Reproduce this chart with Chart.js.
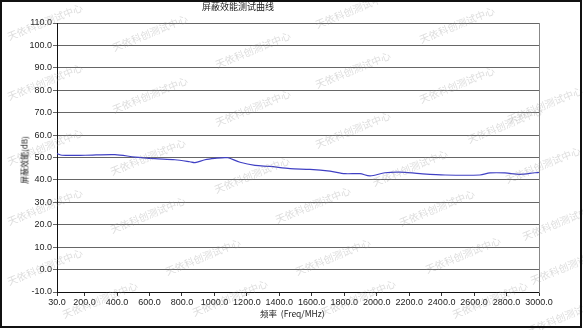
<!DOCTYPE html>
<html>
<head>
<meta charset="utf-8">
<script src="https://cdn.jsdelivr.net/npm/chart.js@4"></script>
<style>
  body { margin: 0; background: #fff; }
  #wrap { position: relative; width: 583px; height: 330px; font-family: "Noto Sans CJK SC", sans-serif; color: #222; }
  #frame { position: absolute; left: 0; top: 0; width: 582px; height: 328px; box-sizing: border-box; border: 2px solid #111; pointer-events: none; }
  .lbl { position: absolute; white-space: nowrap; }
  #title { left: 202px; top: 0px; font-size: 9px; }
  #ytitle { left: 24px; top: 160px; font-size: 8px; transform: translate(-50%, -50%) rotate(-90deg); }
  #xtitle { left: 260px; top: 307px; font-size: 8.5px; }
</style>
</head>
<body>
<div id="wrap">
  <canvas id="chart" width="583" height="330"></canvas>
  <div class="lbl" id="title">屏蔽效能测试曲线</div>
  <div class="lbl" id="ytitle">屏蔽效能(dB)</div>
  <div class="lbl" id="xtitle">频率&nbsp;&nbsp;(Freq/MHz)</div>
  <div id="frame"></div>
</div>
<script>
const freqs = [30, 61, 203, 387, 511, 634, 757, 849, 880, 942, 1003, 1065, 1084, 1158, 1250, 1342, 1466, 1589, 1712, 1805, 1897, 1959, 2051, 2143, 2267, 2421, 2636, 2698, 2790, 2882, 2975, 3000]
const shielding = [51.7, 51.0, 51.0, 51.3, 50.2, 49.5, 49.0, 48.1, 47.7, 49.0, 49.6, 49.9, 49.9, 47.9, 46.5, 46.0, 45.0, 44.7, 43.9, 42.8, 42.8, 41.8, 43.2, 43.5, 42.8, 42.2, 42.2, 43.1, 43.1, 42.5, 43.2, 43.3]
const xTicks = [30, 200, 400, 600, 800, 1000, 1200, 1400, 1600, 1800, 2000, 2200, 2400, 2600, 2800, 3000]

const watermark = '天依科创测试中心'
const marks = [
  [45, 22], [150, 33], [253, 50], [353, 10], [457, 25],
  [45, 82], [150, 95], [253, 108], [353, 70], [457, 85], [545, 105],
  [45, 147], [148, 157], [252, 175], [353, 130], [505, 125], [410, 168], [543, 165],
  [45, 207], [148, 215], [313, 205], [437, 208], [560, 222],
  [45, 267], [100, 300], [203, 257], [230, 298], [333, 257], [463, 255], [358, 298], [490, 300], [568, 266], [565, 316]
]

const watermarkPlugin = {
  id: 'watermark',
  afterDraw(chart) {
    const ctx = chart.ctx
    ctx.save()
    ctx.font = '10px "Noto Sans CJK SC"'
    ctx.fillStyle = 'rgba(150,150,150,0.32)'
    ctx.textAlign = 'center'
    ctx.textBaseline = 'middle'
    marks.forEach(([x, y]) => {
      ctx.save()
      ctx.translate(x, y)
      ctx.rotate(-22 * Math.PI / 180)
      ctx.fillText(watermark, 0, 0)
      ctx.restore()
    })
    ctx.restore()
  }
}

new Chart(document.getElementById('chart'), {
  type: 'line',
  data: {
    datasets: [{
      label: '屏蔽效能',
      data: freqs.map((f, i) => ({ x: f, y: shielding[i] })),
      borderColor: '#4040c4',
      borderWidth: 1.2,
      pointRadius: 0,
      tension: 0.3,
      fill: false
    }]
  },
  options: {
    responsive: false,
    animation: false,
    layout: { padding: { top: 23, right: 44, left: 0, bottom: 0 } },
    plugins: { legend: { display: false }, tooltip: { enabled: false } },
    scales: {
      x: {
        type: 'linear',
        min: 30,
        max: 3000,
        afterBuildTicks: scale => { scale.ticks = xTicks.map(v => ({ value: v })) },
        afterFit: scale => { scale.height = 38 },
        grid: { drawOnChartArea: false, drawTicks: true, tickLength: 4, color: '#333' },
        border: { color: '#111', width: 1 },
        ticks: {
          maxRotation: 0,
          autoSkip: false,
          padding: 1,
          color: '#222',
          font: { family: 'Liberation Sans', size: 9 },
          callback: v => Number(v).toFixed(1)
        }
      },
      y: {
        min: -10,
        max: 110,
        afterFit: scale => { scale.width = 57 },
        grid: { color: '#666', lineWidth: 1, tickLength: 4 },
        border: { color: '#111', width: 1 },
        ticks: {
          stepSize: 10,
          padding: 1,
          color: '#222',
          font: { family: 'Liberation Sans', size: 9 },
          callback: v => Number(v).toFixed(1)
        }
      },
      y2: {
        position: 'right',
        min: -10,
        max: 110,
        afterFit: scale => { scale.width = 0 },
        grid: { drawOnChartArea: false, drawTicks: false },
        border: { color: '#888', width: 1 },
        ticks: { display: false }
      }
    }
  },
  plugins: [watermarkPlugin]
})
</script>
</body>
</html>
